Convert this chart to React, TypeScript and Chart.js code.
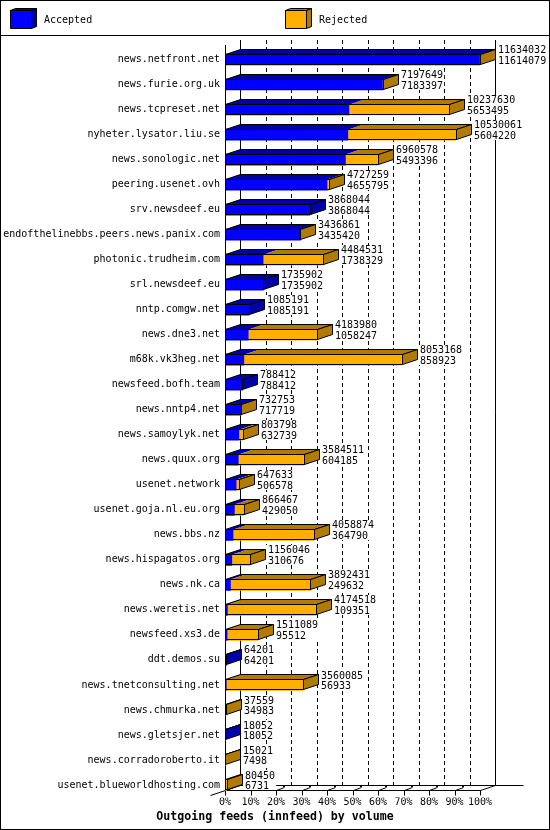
import React, { useEffect, useRef } from 'react';
import { Chart, registerables } from 'chart.js';

Chart.register(...registerables);

const FEEDS = [
  'news.netfront.net',
  'news.furie.org.uk',
  'news.tcpreset.net',
  'nyheter.lysator.liu.se',
  'news.sonologic.net',
  'peering.usenet.ovh',
  'srv.newsdeef.eu',
  'endofthelinebbs.peers.news.panix.com',
  'photonic.trudheim.com',
  'srl.newsdeef.eu',
  'nntp.comgw.net',
  'news.dne3.net',
  'm68k.vk3heg.net',
  'newsfeed.bofh.team',
  'news.nntp4.net',
  'news.samoylyk.net',
  'news.quux.org',
  'usenet.network',
  'usenet.goja.nl.eu.org',
  'news.bbs.nz',
  'news.hispagatos.org',
  'news.nk.ca',
  'news.weretis.net',
  'newsfeed.xs3.de',
  'ddt.demos.su',
  'news.tnetconsulting.net',
  'news.chmurka.net',
  'news.gletsjer.net',
  'news.corradoroberto.it',
  'usenet.blueworldhosting.com',
];

const OFFERED = [
  11634032, 7197649, 10237630, 10530061, 6960578, 4727259, 3868044, 3436861,
  4484531, 1735902, 1085191, 4183980, 8053168, 788412, 732753, 803798,
  3584511, 647633, 866467, 4058874, 1156046, 3892431, 4174518, 1511089,
  64201, 3560085, 37559, 18052, 15021, 80450,
];

const ACCEPTED = [
  11614079, 7183397, 5653495, 5604220, 5493396, 4655795, 3868044, 3435420,
  1738329, 1735902, 1085191, 1058247, 858923, 788412, 717719, 632739,
  604185, 506578, 429050, 364790, 310676, 249632, 109351, 95512,
  64201, 56933, 34983, 18052, 7498, 6731,
];

const TICK_PERCENTS = [0, 10, 20, 30, 40, 50, 60, 70, 80, 90, 100];
const SERIES_NAMES = ['Accepted', 'Rejected'];
const TITLE = 'Outgoing feeds (innfeed) by volume';

const BLUE = '#0000ff';
const BLUE_DARK = '#0000a8';
const ORANGE = '#ffaf00';
const ORANGE_DARK = '#b07b00';

const MONO = "'DejaVu Sans Mono', 'Liberation Mono', monospace";
const FONT = `10px ${MONO}`;

const REJECTED = OFFERED.map((o, i) => o - ACCEPTED[i]);
const MAX = Math.max(...OFFERED);

const DX = 15;
const DY = 5;
const s = (v: number) => Math.round(v) + 0.5;

function poly(ctx: CanvasRenderingContext2D, pts: number[][], fill?: string, stroke = true) {
  ctx.beginPath();
  pts.forEach(([x, y], i) => (i ? ctx.lineTo(x, y) : ctx.moveTo(x, y)));
  ctx.closePath();
  if (fill) {
    ctx.fillStyle = fill;
    ctx.fill();
  }
  if (stroke) {
    ctx.strokeStyle = '#000';
    ctx.lineWidth = 1;
    ctx.stroke();
  }
}

function seg(ctx: CanvasRenderingContext2D, x1: number, y1: number, x2: number, y2: number, dash: number[] = []) {
  ctx.save();
  ctx.setLineDash(dash);
  ctx.strokeStyle = '#000';
  ctx.lineWidth = 1;
  ctx.beginPath();
  ctx.moveTo(x1, y1);
  ctx.lineTo(x2, y2);
  ctx.stroke();
  ctx.restore();
}

function cube(ctx: CanvasRenderingContext2D, x: number, y: number, w: number, h: number, front: string, dark: string) {
  const d = 5;
  const e = 2;
  poly(ctx, [[x, y], [x + w, y], [x + w + d, y - e], [x + d, y - e]], dark);
  poly(ctx, [[x + w, y], [x + w + d, y - e], [x + w + d, y + h - e], [x + w, y + h]], dark);
  poly(ctx, [[x, y], [x + w, y], [x + w, y + h], [x, y + h]], front);
}

const threeD = {
  id: 'threeD',
  beforeDraw(chart: any) {
    const ctx: CanvasRenderingContext2D = chart.ctx;
    const W = chart.width;
    const H = chart.height;
    ctx.save();
    ctx.fillStyle = '#fff';
    ctx.fillRect(0, 0, W, H);
    ctx.strokeStyle = '#000';
    ctx.lineWidth = 1;
    ctx.strokeRect(0.5, 0.5, W - 1, H - 1);
    seg(ctx, 0, 35.5, W, 35.5);
    // legend
    const ds = chart.data.datasets;
    cube(ctx, 10.5, 10.5, 21, 18, ds[0].backgroundColor, BLUE_DARK);
    cube(ctx, 285.5, 10.5, 21, 18, ds[1].backgroundColor, ORANGE_DARK);
    ctx.fillStyle = '#000';
    ctx.font = FONT;
    ctx.textBaseline = 'middle';
    ctx.textAlign = 'left';
    ctx.fillText(ds[0].label, 44, 20);
    ctx.fillText(ds[1].label, 319, 20);
    ctx.restore();
  },
  beforeDatasetsDraw(chart: any) {
    const ctx: CanvasRenderingContext2D = chart.ctx;
    const xs = chart.scales.x;
    const ys = chart.scales.y;
    const x0 = xs.getPixelForValue(0);
    const x100 = xs.getPixelForValue(MAX);
    const last = ys.getPixelForValue(FEEDS.length - 1);
    const yFront = last + 5.5; // front floor
    const yBack = yFront - DY;
    const yTopBack = 40;
    ctx.save();
    // back wall dashed grid lines
    for (const p of TICK_PERCENTS) {
      const x = s(xs.getPixelForValue((p / 100) * MAX) + DX);
      if (p === 0 || p === 100) {
        seg(ctx, x, yTopBack, x, s(yBack));
      } else {
        seg(ctx, x, yTopBack, x, s(yBack), [4, 3]);
      }
    }
    // floor
    seg(ctx, s(x0 + DX), s(yBack), s(x100 + DX + 28), s(yBack));
    seg(ctx, s(x100 + DX), s(yBack), s(x100), s(yFront));
    seg(ctx, s(x0), s(yFront), s(x100), s(yFront));
    seg(ctx, s(x0 - DX), s(yFront + DY), s(x0 + DX), s(yBack));
    // front left edge
    seg(ctx, s(x0), yTopBack + DY, s(x0), s(yFront));
    // ticks
    for (const p of TICK_PERCENTS) {
      const x = s(xs.getPixelForValue((p / 100) * MAX));
      seg(ctx, x, s(yFront), x, s(yFront) + 5);
      if (p !== 100) {
        seg(ctx, x, s(yFront), x + 8, s(yFront) - 3);
        ctx.fillStyle = '#000';
        ctx.fillRect(x + 6.5, s(yFront) - 5.5, 2, 2);
      }
    }
    ctx.restore();
  },
  afterDatasetsDraw(chart: any) {
    const ctx: CanvasRenderingContext2D = chart.ctx;
    const accMeta = chart.getDatasetMeta(0).data;
    const rejMeta = chart.getDatasetMeta(1).data;
    ctx.save();
    for (let i = 0; i < FEEDS.length; i++) {
      const a = accMeta[i];
      const r = rejMeta[i];
      const c = a.y;
      const top = c - a.height / 2;
      const bot = c + a.height / 2;
      const x0 = a.base;
      const xa = a.x;
      const xt = r.x;
      const L = s(x0);
      const A = s(xa);
      const T = s(xt);
      const tp = s(top);
      const bt = s(bot) - 1;
      // top faces
      poly(ctx, [[L, tp], [A, tp], [A + DX, tp - DY], [L + DX, tp - DY]], BLUE_DARK, false);
      if (REJECTED[i] > 0) {
        poly(ctx, [[A, tp], [T, tp], [T + DX, tp - DY], [A + DX, tp - DY]], ORANGE_DARK, false);
      }
      poly(ctx, [[L, tp], [T, tp], [T + DX, tp - DY], [L + DX, tp - DY]]);
      // side face
      const sideColor = REJECTED[i] > 0 ? ORANGE_DARK : BLUE_DARK;
      poly(ctx, [[T, tp], [T + DX, tp - DY], [T + DX, bt - DY], [T, bt]], sideColor);
      // front outline
      poly(ctx, [[L, tp], [T, tp], [T, bt], [L, bt]]);
      // value labels
      ctx.font = FONT;
      ctx.textBaseline = 'middle';
      ctx.textAlign = 'left';
      const l1 = String(OFFERED[i]);
      const l2 = String(ACCEPTED[i]);
      const sx = Math.round(xt + DX) + 1;
      const tx = sx + 2;
      const w = Math.max(ctx.measureText(l1).width, ctx.measureText(l2).width);
      ctx.fillStyle = '#fff';
      ctx.fillRect(sx, Math.round(c - 14.5), tx + w - sx + 1, 20);
      ctx.fillStyle = '#000';
      ctx.fillText(l1, tx, c - 9);
      ctx.fillText(l2, tx, c + 1.5);
    }
    ctx.restore();
  },
};

export default function App() {
  const ref = useRef<HTMLCanvasElement>(null);
  useEffect(() => {
    document.body.style.margin = '0';
    const canvas = ref.current;
    if (!canvas) return;
    const chart = new Chart(canvas, {
      type: 'bar',
      data: {
        labels: FEEDS,
        datasets: [
          {
            label: SERIES_NAMES[0],
            data: ACCEPTED,
            backgroundColor: BLUE,
            borderWidth: 0,
            barThickness: 11,
          },
          {
            label: SERIES_NAMES[1],
            data: REJECTED,
            backgroundColor: ORANGE,
            borderWidth: 0,
            barThickness: 11,
          },
        ],
      },
      options: {
        indexAxis: 'y',
        responsive: false,
        maintainAspectRatio: false,
        animation: false,
        devicePixelRatio: 1,
        events: [],
        layout: { padding: { top: 47, left: 0, right: 0, bottom: 0 } },
        plugins: {
          legend: { display: false },
          tooltip: { enabled: false },
          title: {
            display: true,
            position: 'bottom',
            text: TITLE,
            color: '#000',
            font: { family: MONO, size: 11.6, weight: 'bold', lineHeight: 1.2 },
            padding: { top: 0, bottom: 5.6 },
          },
        },
        scales: {
          x: {
            type: 'linear',
            stacked: true,
            min: 0,
            max: MAX,
            position: 'bottom',
            grid: { display: false, drawTicks: false },
            border: { display: false },
            afterBuildTicks: (scale: any) => {
              scale.ticks = TICK_PERCENTS.map((p) => ({ value: (p / 100) * MAX }));
            },
            afterFit: (scale: any) => {
              scale.height = 13;
            },
            ticks: {
              color: '#000',
              font: { family: MONO, size: 10, lineHeight: 1 },
              padding: 0,
              maxRotation: 0,
              autoSkip: false,
              callback: (v: any) => `${Math.round((Number(v) / MAX) * 100)}%`,
            },
          },
          y: {
            type: 'category',
            stacked: true,
            grid: { display: false, drawTicks: false },
            border: { display: false },
            afterFit: (scale: any) => {
              scale.width = 225;
            },
            ticks: {
              color: '#000',
              font: { family: MONO, size: 10 },
              padding: 5,
              autoSkip: false,
            },
          },
          y2: {
            type: 'category',
            position: 'right',
            display: true,
            grid: { display: false, drawTicks: false },
            border: { display: false },
            ticks: { display: false },
            afterFit: (scale: any) => {
              scale.width = 70;
            },
          },
        },
      } as any,
      plugins: [threeD as any],
    });
    return () => chart.destroy();
  }, []);
  return (
    <div style={{ position: 'absolute', left: 0, top: 0, width: 550, height: 830 }}>
      <canvas ref={ref} width={550} height={830} style={{ display: 'block', width: 550, height: 830 }} />
    </div>
  );
}
